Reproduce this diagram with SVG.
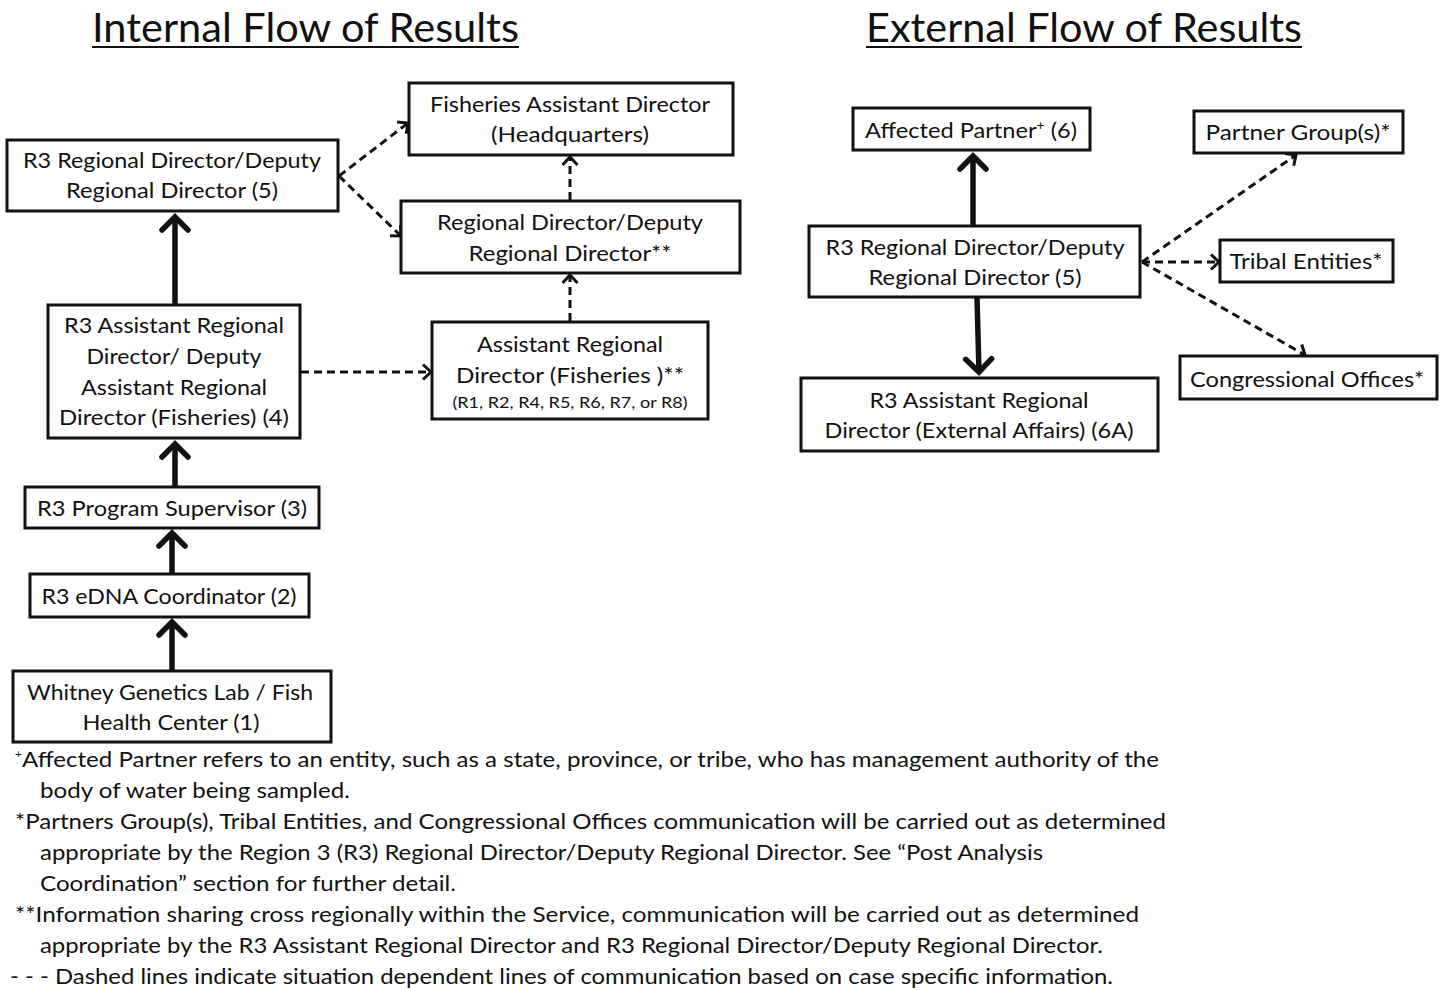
<svg xmlns="http://www.w3.org/2000/svg" width="1447" height="990" viewBox="0 0 1447 990">
<style>
text{font-family:Lato,"Noto Sans","Liberation Sans",sans-serif;fill:#111;}
.t{font-size:22px;text-anchor:middle;}
.s{font-size:16px;text-anchor:middle;}
.title{font-size:40px;}
.fn{font-size:22px;}
.box{fill:#fff;stroke:#111;stroke-width:3;}
.solid{stroke:#111;stroke-width:5.5;fill:none;}
.dash{stroke:#111;stroke-width:3;fill:none;stroke-dasharray:8 5;}
</style>
<defs>
<marker id="hs" markerUnits="userSpaceOnUse" markerWidth="40" markerHeight="40" refX="20" refY="20" orient="auto" overflow="visible">
<path d="M7,7 L20,20 L7,33" fill="none" stroke="#111" stroke-width="5.5" stroke-linecap="round" stroke-linejoin="miter"/>
</marker>
<marker id="hd" markerUnits="userSpaceOnUse" markerWidth="30" markerHeight="30" refX="15" refY="15" orient="auto" overflow="visible">
<path d="M7,7.5 L15,15 L7,22.5" fill="none" stroke="#111" stroke-width="3"/>
</marker>
</defs>
<rect width="1447" height="990" fill="#fff"/>

<g id="titles">
<text class="title" x="92" y="42" textLength="427" lengthAdjust="spacingAndGlyphs">Internal Flow of Results</text>
<line x1="92" y1="47" x2="519" y2="47" stroke="#111" stroke-width="2"/>
<text class="title" x="866" y="42" textLength="436" lengthAdjust="spacingAndGlyphs">External Flow of Results</text>
<line x1="866" y1="47" x2="1302" y2="47" stroke="#111" stroke-width="2"/>
</g>

<g id="connectors">
<line class="solid" x1="175" y1="304" x2="175" y2="217" marker-end="url(#hs)"/>
<line class="solid" x1="175" y1="486" x2="175" y2="444" marker-end="url(#hs)"/>
<line class="solid" x1="172" y1="573" x2="172" y2="533" marker-end="url(#hs)"/>
<line class="solid" x1="172" y1="670" x2="172" y2="622" marker-end="url(#hs)"/>
<line class="dash" x1="339" y1="176" x2="408" y2="123" marker-end="url(#hd)"/>
<line class="dash" x1="339" y1="176" x2="401" y2="236" marker-end="url(#hd)"/>
<line class="dash" x1="570" y1="200" x2="570" y2="157" marker-end="url(#hd)"/>
<line class="dash" x1="570" y1="321" x2="570" y2="275" marker-end="url(#hd)"/>
<line class="dash" x1="301" y1="372" x2="431" y2="372" marker-end="url(#hd)"/>
<line class="solid" x1="973" y1="225" x2="973" y2="156" marker-end="url(#hs)"/>
<line class="solid" x1="977" y1="298" x2="979" y2="372" marker-end="url(#hs)"/>
<line class="dash" x1="1142" y1="262" x2="1296" y2="155" marker-end="url(#hd)"/>
<line class="dash" x1="1142" y1="262" x2="1219" y2="262" marker-end="url(#hd)"/>
<line class="dash" x1="1142" y1="262" x2="1305" y2="355" marker-end="url(#hd)"/>
</g>

<g id="n-rd5-int">
<rect class="box" x="7" y="140" width="331" height="71"/>
<text class="t" x="172" y="168" textLength="298" lengthAdjust="spacingAndGlyphs">R3 Regional Director/Deputy</text>
<text class="t" x="172" y="198" textLength="212" lengthAdjust="spacingAndGlyphs">Regional Director (5)</text>
</g>
<g id="n-fad">
<rect class="box" x="409" y="83" width="324" height="72"/>
<text class="t" x="570" y="112" textLength="280" lengthAdjust="spacingAndGlyphs">Fisheries Assistant Director</text>
<text class="t" x="570" y="142" textLength="158" lengthAdjust="spacingAndGlyphs">(Headquarters)</text>
</g>
<g id="n-rd">
<rect class="box" x="401" y="201" width="339" height="72"/>
<text class="t" x="570" y="230" textLength="266" lengthAdjust="spacingAndGlyphs">Regional Director/Deputy</text>
<text class="t" x="570" y="261" textLength="203" lengthAdjust="spacingAndGlyphs">Regional Director**</text>
</g>
<g id="n-ard4">
<rect class="box" x="48" y="305" width="252" height="133"/>
<text class="t" x="174" y="333" textLength="220" lengthAdjust="spacingAndGlyphs">R3 Assistant Regional</text>
<text class="t" x="174" y="364" textLength="175" lengthAdjust="spacingAndGlyphs">Director/ Deputy</text>
<text class="t" x="174" y="395" textLength="186" lengthAdjust="spacingAndGlyphs">Assistant Regional</text>
<text class="t" x="174" y="425" textLength="230" lengthAdjust="spacingAndGlyphs">Director (Fisheries) (4)</text>
</g>
<g id="n-ard-other">
<rect class="box" x="432" y="322" width="276" height="97"/>
<text class="t" x="570" y="352" textLength="186" lengthAdjust="spacingAndGlyphs">Assistant Regional</text>
<text class="t" x="570" y="383" textLength="228" lengthAdjust="spacingAndGlyphs">Director (Fisheries )**</text>
<text class="s" x="570" y="408" textLength="235" lengthAdjust="spacingAndGlyphs">(R1, R2, R4, R5, R6, R7, or R8)</text>
</g>
<g id="n-ps3">
<rect class="box" x="25" y="487" width="294" height="41"/>
<text class="t" x="172" y="516" textLength="270" lengthAdjust="spacingAndGlyphs">R3 Program Supervisor (3)</text>
</g>
<g id="n-edna2">
<rect class="box" x="30" y="574" width="279" height="43"/>
<text class="t" x="169" y="604" textLength="255" lengthAdjust="spacingAndGlyphs">R3 eDNA Coordinator (2)</text>
</g>
<g id="n-lab1">
<rect class="box" x="13" y="671" width="318" height="71"/>
<text class="t" x="170" y="700" textLength="286" lengthAdjust="spacingAndGlyphs">Whitney Genetics Lab / Fish</text>
<text class="t" x="171" y="730" textLength="177" lengthAdjust="spacingAndGlyphs">Health Center (1)</text>
</g>

<g id="n-ap6">
<rect class="box" x="853" y="108" width="237" height="42"/>
<text class="t" x="971" y="138" textLength="212" lengthAdjust="spacingAndGlyphs">Affected Partner<tspan font-size="13" dy="-8">+</tspan><tspan dy="8"> (6)</tspan></text>
</g>
<g id="n-pg">
<rect class="box" x="1194" y="111" width="209" height="42"/>
<text class="t" x="1298" y="140" textLength="185" lengthAdjust="spacingAndGlyphs">Partner Group(s)*</text>
</g>
<g id="n-rd5-ext">
<rect class="box" x="809" y="226" width="331" height="71"/>
<text class="t" x="975" y="255" textLength="299" lengthAdjust="spacingAndGlyphs">R3 Regional Director/Deputy</text>
<text class="t" x="975" y="285" textLength="213" lengthAdjust="spacingAndGlyphs">Regional Director (5)</text>
</g>
<g id="n-tribal">
<rect class="box" x="1220" y="240" width="173" height="42"/>
<text class="t" x="1306" y="269" textLength="153" lengthAdjust="spacingAndGlyphs">Tribal Entities*</text>
</g>
<g id="n-cong">
<rect class="box" x="1180" y="356" width="257" height="43"/>
<text class="t" x="1307" y="387" textLength="234" lengthAdjust="spacingAndGlyphs">Congressional Offices*</text>
</g>
<g id="n-ea6a">
<rect class="box" x="801" y="378" width="357" height="73"/>
<text class="t" x="979" y="408" textLength="219" lengthAdjust="spacingAndGlyphs">R3 Assistant Regional</text>
<text class="t" x="979" y="438" textLength="309" lengthAdjust="spacingAndGlyphs">Director (External Affairs) (6A)</text>
</g>

<g id="footnotes">
<text class="fn" x="15" y="767"><tspan font-size="12" dy="-9">+</tspan><tspan dy="9" textLength="1137" lengthAdjust="spacingAndGlyphs">Affected Partner refers to an entity, such as a state, province, or tribe, who has management authority of the</tspan></text>
<text class="fn" x="40" y="798" textLength="310" lengthAdjust="spacingAndGlyphs">body of water being sampled.</text>
<text class="fn" x="15" y="829" textLength="1151" lengthAdjust="spacingAndGlyphs">*Partners Group(s), Tribal Entities, and Congressional Offices communication will be carried out as determined</text>
<text class="fn" x="40" y="860" textLength="1003" lengthAdjust="spacingAndGlyphs">appropriate by the Region 3 (R3) Regional Director/Deputy Regional Director. See “Post Analysis</text>
<text class="fn" x="40" y="891" textLength="416" lengthAdjust="spacingAndGlyphs">Coordination” section for further detail.</text>
<text class="fn" x="15" y="922" textLength="1124" lengthAdjust="spacingAndGlyphs">**Information sharing cross regionally within the Service, communication will be carried out  as determined</text>
<text class="fn" x="40" y="953" textLength="1063" lengthAdjust="spacingAndGlyphs">appropriate  by the R3 Assistant Regional Director and R3 Regional Director/Deputy Regional Director.</text>
<text class="fn" x="10" y="984" textLength="1103" lengthAdjust="spacingAndGlyphs">- - - Dashed lines indicate situation dependent lines of communication based on case specific information.</text>
</g>
</svg>
